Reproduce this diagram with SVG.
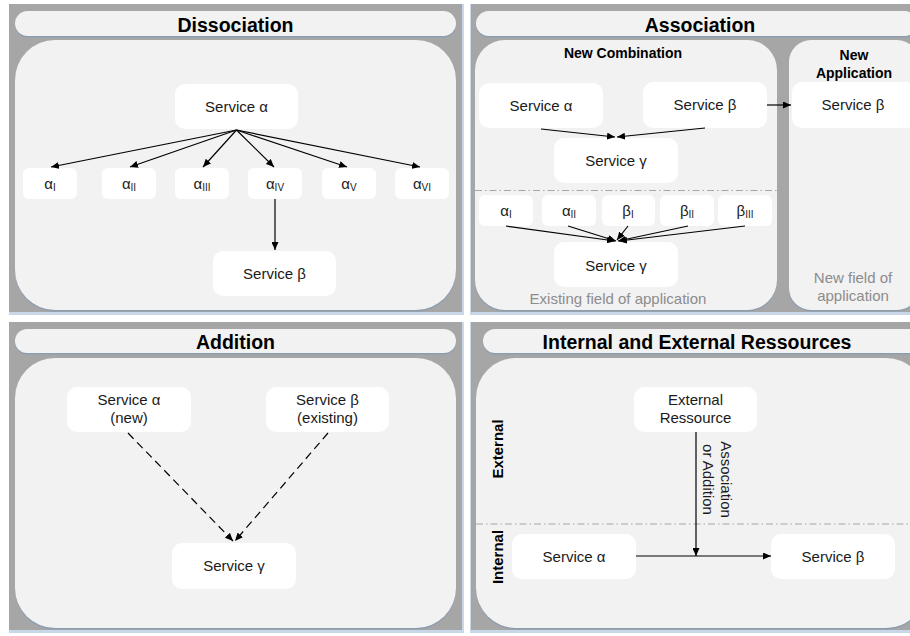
<svg xmlns="http://www.w3.org/2000/svg" width="910" height="636" viewBox="0 0 910 636">
<defs>
<style>
.panel{fill:#a6a6a6}
.edge{fill:#c9d8e8}
.shadow{fill:#8d9db0}
.pill{fill:#f2f2f2}
.inner{fill:#f2f2f2}
.node{fill:#ffffff}
.t{font-family:"Liberation Sans",Arial,sans-serif;font-size:15px;fill:#1a1a1a;text-anchor:middle}
.title{font-family:"Liberation Sans",Arial,sans-serif;font-size:19.5px;font-weight:bold;fill:#000;text-anchor:middle}
.sub{font-family:"Liberation Sans",Arial,sans-serif;font-size:14px;font-weight:bold;fill:#000;text-anchor:middle}
.grey{font-family:"Liberation Sans",Arial,sans-serif;font-size:15px;fill:#8c8c8c;text-anchor:middle}
.s{font-size:10px}
.ln{stroke:#000;stroke-width:1.2;fill:none}
.dash{stroke:#000;stroke-width:1.2;fill:none;stroke-dasharray:8,5}
.sep{stroke:#a6a6a6;stroke-width:1.2;fill:none;stroke-dasharray:7,3,1.5,3}
</style>
<marker id="ah" viewBox="0 0 8 7" refX="8" refY="3.5" markerWidth="8" markerHeight="7" markerUnits="userSpaceOnUse" orient="auto">
<path d="M0,0 L8,3.5 L0,7 z" fill="#000"/>
</marker>
</defs>
<rect width="910" height="636" fill="#ffffff"/>

<!-- Panel backgrounds -->
<g id="panel-dissociation">
<rect class="edge" x="9" y="4" width="455" height="311"/>
<rect class="panel" x="9" y="4" width="453" height="308"/>
<rect class="shadow" x="15" y="12.5" width="441" height="25" rx="12.5"/>
<rect class="pill" x="15" y="11" width="441" height="25" rx="12.5"/>
<rect class="shadow" x="15" y="41.5" width="441" height="270" rx="40"/>
<rect class="inner" x="15" y="40" width="441" height="270" rx="40"/>
<text class="title" x="235.5" y="32">Dissociation</text>
</g>
<g id="panel-association">
<rect class="edge" x="470" y="4" width="440" height="311"/>
<rect class="panel" x="471" y="4" width="445" height="308"/>
<rect class="shadow" x="476" y="12.5" width="441" height="25" rx="12.5"/>
<rect class="pill" x="476" y="11" width="441" height="25" rx="12.5"/>
<text class="title" x="700" y="32">Association</text>
<rect class="shadow" x="475" y="41.5" width="302" height="270" rx="30"/>
<rect class="inner" x="475" y="40" width="302" height="270" rx="30"/>
<rect class="shadow" x="789" y="41.5" width="130" height="270" rx="22"/>
<rect class="inner" x="789" y="40" width="130" height="270" rx="22"/>
<text class="sub" x="623" y="58">New Combination</text>
<text class="sub" x="854" y="60">New</text>
<text class="sub" x="854" y="77.5">Application</text>
<line class="sep" x1="475" y1="190.5" x2="777" y2="190.5"/>
<text class="grey" x="618" y="304">Existing field of application</text>
<text class="grey" x="853" y="283">New field of</text>
<text class="grey" x="853" y="301">application</text>
</g>
<g id="panel-addition">
<rect class="edge" x="9" y="322" width="455" height="311"/>
<rect class="panel" x="9" y="322" width="453" height="308"/>
<rect class="shadow" x="15" y="330.5" width="441" height="24" rx="12"/>
<rect class="pill" x="15" y="329" width="441" height="24" rx="12"/>
<rect class="shadow" x="15" y="359.5" width="441" height="270" rx="40"/>
<rect class="inner" x="15" y="358" width="441" height="270" rx="40"/>
<text class="title" x="235.5" y="349">Addition</text>
</g>
<g id="panel-resources">
<rect class="edge" x="470" y="322" width="440" height="311"/>
<rect class="panel" x="471" y="322" width="445" height="308"/>
<rect class="shadow" x="483" y="330.5" width="440" height="24" rx="12"/>
<rect class="pill" x="483" y="329" width="440" height="24" rx="12"/>
<rect class="shadow" x="476" y="359.5" width="450" height="270" rx="40"/>
<rect class="inner" x="476" y="358" width="450" height="270" rx="40"/>
<text class="title" x="697" y="349">Internal and External Ressources</text>
<line class="sep" x1="476" y1="524" x2="910" y2="524"/>
<text class="sub" style="font-size:15px" transform="translate(503,449) rotate(-90)">External</text>
<text class="sub" style="font-size:15px" transform="translate(503,557) rotate(-90)">Internal</text>
</g>

<!-- Nodes: Dissociation -->
<g id="d-alpha"><rect class="node" x="175" y="84" width="123" height="45" rx="10"/><text class="t" x="236.5" y="112">Service α</text></g>
<g id="d-a1"><rect class="node" x="23" y="168" width="54" height="31" rx="6"/><text class="t" x="50" y="189">α<tspan class="s" dy="2">I</tspan></text></g>
<g id="d-a2"><rect class="node" x="102" y="168" width="54" height="31" rx="6"/><text class="t" x="129" y="189">α<tspan class="s" dy="2">II</tspan></text></g>
<g id="d-a3"><rect class="node" x="175" y="168" width="54" height="31" rx="6"/><text class="t" x="202" y="189">α<tspan class="s" dy="2">III</tspan></text></g>
<g id="d-a4"><rect class="node" x="248" y="168" width="54" height="31" rx="6"/><text class="t" x="275" y="189">α<tspan class="s" dy="2">IV</tspan></text></g>
<g id="d-a5"><rect class="node" x="322" y="168" width="54" height="31" rx="6"/><text class="t" x="349" y="189">α<tspan class="s" dy="2">V</tspan></text></g>
<g id="d-a6"><rect class="node" x="395" y="168" width="54" height="31" rx="6"/><text class="t" x="422" y="189">α<tspan class="s" dy="2">VI</tspan></text></g>
<g id="d-beta"><rect class="node" x="213" y="251" width="123" height="45" rx="10"/><text class="t" x="274.5" y="279">Service β</text></g>

<!-- Nodes: Association -->
<g id="a-alpha"><rect class="node" x="479" y="83" width="124" height="45" rx="10"/><text class="t" x="541" y="111">Service α</text></g>
<g id="a-beta"><rect class="node" x="643" y="82" width="124" height="46" rx="10"/><text class="t" x="705" y="110">Service β</text></g>
<g id="a-gamma1"><rect class="node" x="554" y="138" width="124" height="45" rx="10"/><text class="t" x="616" y="166">Service γ</text></g>
<g id="a-a1"><rect class="node" x="479" y="195" width="54" height="31" rx="6"/><text class="t" x="506" y="216">α<tspan class="s" dy="2">I</tspan></text></g>
<g id="a-a2"><rect class="node" x="542" y="195" width="54" height="31" rx="6"/><text class="t" x="569" y="216">α<tspan class="s" dy="2">II</tspan></text></g>
<g id="a-b1"><rect class="node" x="602" y="195" width="53" height="31" rx="6"/><text class="t" x="628" y="216">β<tspan class="s" dy="2">I</tspan></text></g>
<g id="a-b2"><rect class="node" x="660" y="195" width="54" height="31" rx="6"/><text class="t" x="687" y="216">β<tspan class="s" dy="2">II</tspan></text></g>
<g id="a-b3"><rect class="node" x="718" y="195" width="54" height="31" rx="6"/><text class="t" x="745" y="216">β<tspan class="s" dy="2">III</tspan></text></g>
<g id="a-gamma2"><rect class="node" x="554" y="242" width="124" height="45" rx="10"/><text class="t" x="616" y="271">Service γ</text></g>
<g id="a-beta-new"><rect class="node" x="792" y="82" width="124" height="46" rx="10"/><text class="t" x="853" y="110">Service β</text></g>

<!-- Nodes: Addition -->
<g id="ad-alpha"><rect class="node" x="67" y="387" width="124" height="45" rx="10"/><text class="t" x="129" y="405">Service α</text><text class="t" x="129" y="423">(new)</text></g>
<g id="ad-beta"><rect class="node" x="266" y="387" width="123" height="45" rx="10"/><text class="t" x="327.5" y="405">Service β</text><text class="t" x="327.5" y="423">(existing)</text></g>
<g id="ad-gamma"><rect class="node" x="172" y="543" width="124" height="46" rx="10"/><text class="t" x="234" y="571">Service γ</text></g>

<!-- Nodes: Resources -->
<g id="r-ext"><rect class="node" x="634" y="387" width="123" height="45" rx="10"/><text class="t" x="695.5" y="405">External</text><text class="t" x="695.5" y="423">Ressource</text></g>
<g id="r-alpha"><rect class="node" x="512" y="534" width="124" height="45" rx="10"/><text class="t" x="574" y="562">Service α</text></g>
<g id="r-beta"><rect class="node" x="771" y="534" width="124" height="45" rx="10"/><text class="t" x="833" y="562">Service β</text></g>

<!-- Connectors -->
<g id="connectors">
<line class="ln" x1="236.5" y1="130" x2="51" y2="167" marker-end="url(#ah)"/>
<line class="ln" x1="236.5" y1="130" x2="130" y2="167" marker-end="url(#ah)"/>
<line class="ln" x1="236.5" y1="130" x2="203" y2="167" marker-end="url(#ah)"/>
<line class="ln" x1="236.5" y1="130" x2="274" y2="167" marker-end="url(#ah)"/>
<line class="ln" x1="236.5" y1="130" x2="347" y2="167" marker-end="url(#ah)"/>
<line class="ln" x1="236.5" y1="130" x2="420" y2="167" marker-end="url(#ah)"/>
<line class="ln" x1="275" y1="199" x2="275" y2="250" marker-end="url(#ah)"/>

<line class="ln" x1="541" y1="129" x2="615" y2="137" marker-end="url(#ah)"/>
<line class="ln" x1="705" y1="128" x2="617" y2="137" marker-end="url(#ah)"/>
<line class="ln" x1="767" y1="105" x2="791" y2="105" marker-end="url(#ah)"/>
<line class="ln" x1="506" y1="226" x2="615" y2="241" marker-end="url(#ah)"/>
<line class="ln" x1="568" y1="226" x2="616" y2="241" marker-end="url(#ah)"/>
<line class="ln" x1="628" y1="226" x2="617" y2="240" marker-end="url(#ah)"/>
<line class="ln" x1="688" y1="226" x2="618" y2="241" marker-end="url(#ah)"/>
<line class="ln" x1="745" y1="226" x2="619" y2="241" marker-end="url(#ah)"/>

<line class="dash" x1="128" y1="433" x2="233" y2="541" marker-end="url(#ah)"/>
<line class="dash" x1="328" y1="433" x2="235" y2="541" marker-end="url(#ah)"/>

<line class="ln" x1="636" y1="556" x2="771" y2="556" marker-end="url(#ah)"/>
<line class="ln" x1="696" y1="432" x2="696" y2="556" marker-end="url(#ah)"/>
<text class="t" transform="translate(721,479.5) rotate(90)"><tspan x="0" y="0">Association</tspan><tspan x="0" y="18">or Addition</tspan></text>
</g>
</svg>
